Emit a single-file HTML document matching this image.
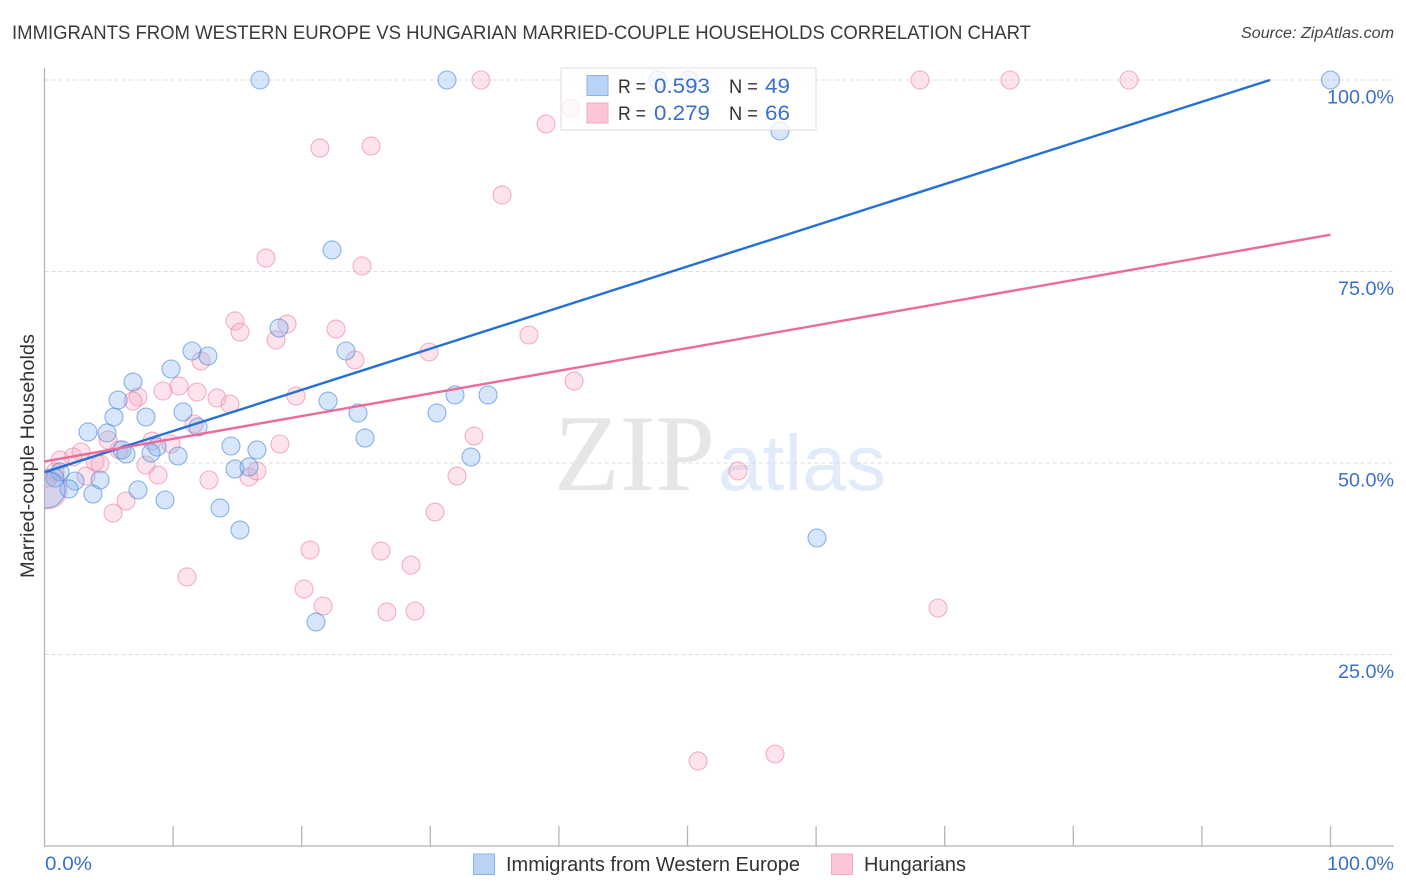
<!DOCTYPE html>
<html>
<head>
<meta charset="utf-8">
<style>
html,body{margin:0;padding:0;background:#fff;width:1406px;height:892px;overflow:hidden}
svg{display:block}
text{font-family:"Liberation Sans",sans-serif}
</style>
</head>
<body>
<svg id="chart" width="1406" height="892" viewBox="0 0 1406 892" xmlns="http://www.w3.org/2000/svg">
  <defs><clipPath id="plot-clip"><rect x="44.5" y="60" width="1350" height="786"/></clipPath></defs>
  <text x="12" y="39" font-size="19.5" fill="#3a3a3a" textLength="1019" lengthAdjust="spacingAndGlyphs">IMMIGRANTS FROM WESTERN EUROPE VS HUNGARIAN MARRIED-COUPLE HOUSEHOLDS CORRELATION CHART</text>
  <text x="1241" y="38" font-size="15.5" font-style="italic" fill="#444" textLength="153" lengthAdjust="spacingAndGlyphs">Source: ZipAtlas.com</text>
  <g>
    <text x="554" y="490" font-size="109" fill="#e6e6e6" style="font-family:'Liberation Serif',serif" textLength="161" lengthAdjust="spacingAndGlyphs">ZIP</text>
    <text x="718" y="490" font-size="79" fill="#e2ebfa" textLength="168" lengthAdjust="spacingAndGlyphs">atlas</text>
  </g>
  <g id="grid"></g>
  <g id="axes"></g>
  <g id="points" clip-path="url(#plot-clip)"></g>
  <g id="lines" clip-path="url(#plot-clip)"></g>
  <g>
    <rect x="561" y="68" width="255" height="62" fill="#fff" fill-opacity="0.76" stroke="#dedede" stroke-width="1"/>
    <rect x="587" y="75.500" width="21" height="20" fill="#b9d3f7" stroke="#8ab4e8"/>
    <rect x="587" y="103" width="21" height="20" fill="#fbc6d6" stroke="#f3a9c0"/>
    <text x="618" y="93" font-size="19.500" fill="#333" textLength="28" lengthAdjust="spacingAndGlyphs">R =</text>
    <text x="654" y="93" font-size="21" fill="#3a6fcf" textLength="56" lengthAdjust="spacingAndGlyphs">0.593</text>
    <text x="729" y="93" font-size="19.500" fill="#333" textLength="29" lengthAdjust="spacingAndGlyphs">N =</text>
    <text x="765" y="93" font-size="21" fill="#3a6fcf" textLength="25" lengthAdjust="spacingAndGlyphs">49</text>
    <text x="618" y="120" font-size="19.500" fill="#333" textLength="28" lengthAdjust="spacingAndGlyphs">R =</text>
    <text x="654" y="120" font-size="21" fill="#3a6fcf" textLength="56" lengthAdjust="spacingAndGlyphs">0.279</text>
    <text x="729" y="120" font-size="19.500" fill="#333" textLength="29" lengthAdjust="spacingAndGlyphs">N =</text>
    <text x="765" y="120" font-size="21" fill="#3a6fcf" textLength="25" lengthAdjust="spacingAndGlyphs">66</text>
  </g>
  <g>
    <rect x="473.500" y="854" width="21" height="20.500" fill="#b9d3f7" stroke="#8ab4e8"/>
    <text x="506" y="871" font-size="20" fill="#333" textLength="294" lengthAdjust="spacingAndGlyphs">Immigrants from Western Europe</text>
    <rect x="831.500" y="854" width="21" height="20.500" fill="#fbc6d6" stroke="#f3a9c0"/>
    <text x="864" y="871" font-size="20" fill="#333" textLength="102" lengthAdjust="spacingAndGlyphs">Hungarians</text>
  </g>
  <text transform="translate(34,456) rotate(-90)" font-size="19.500" fill="#333" text-anchor="middle" textLength="244" lengthAdjust="spacingAndGlyphs">Married-couple Households</text>
</svg>
<script>
const yTicks = [25, 50, 75, 100];
const yTickLabels = ["25.0%", "50.0%", "75.0%", "100.0%"];
const xTicks = [0, 10, 20, 30, 40, 50, 60, 70, 80, 90, 100];
const xEndLabels = ["0.0%", "100.0%"];

const blueX = [16.76,31.30,47.71,50.11,100,57.19,22.36,18.24,11.47,12.71,23.44,9.84,6.88,5.72,7.89,5.40,10.77,22.05,24.38,30.52,31.92,34.49,11.94,3.38,4.86,8.75,14.50,24.92,33.16,6.03,6.34,8.28,10.38,16.52,14.81,15.90,1.21,0.82,2.37,4.32,1.91,3.77,7.27,9.37,13.65,15.20,60.07,21.11,0.2];
const blueY = [100,100,100,100,100,93.34,77.81,67.62,64.62,63.97,64.62,62.27,60.57,58.22,56.0,56.0,56.66,58.09,56.53,56.53,58.88,58.88,54.70,54.05,53.92,52.09,52.22,53.26,50.78,51.70,51.17,51.31,50.91,51.70,49.22,49.48,48.83,48.04,47.65,47.78,46.61,45.95,46.48,45.17,44.13,41.25,40.21,29.24,46.5];
const blueWeight = [1,1,1,1,1,1,1,1,1,1,1,1,1,1,1,1,1,1,1,1,1,1,1,1,1,1,1,1,1,1,1,1,1,1,1,1,1,1,1,1,1,1,1,1,1,1,1,1,2];

const pinkX = [33.94,68.08,75.08,84.33,40.94,39.0,21.42,25.39,35.58,17.22,24.69,14.81,18.86,22.67,15.20,18.0,29.90,37.67,12.17,24.14,41.18,10.46,9.21,11.86,7.27,6.88,13.41,14.42,19.56,11.63,18.31,33.40,4.94,8.36,9.84,5.79,7.89,2.84,2.22,1.21,3.93,4.32,8.83,3.23,12.79,15.90,16.52,32.08,53.93,6.34,5.33,30.37,20.65,26.17,28.50,11.08,20.18,21.66,26.63,28.81,69.48,50.82,56.81,0.27,0.82,0.27];
const pinkY = [100,100,100,100,96.34,94.26,91.12,91.38,84.99,76.76,75.72,68.54,68.15,67.49,67.10,66.06,64.49,66.71,63.32,63.45,60.70,60.05,59.40,59.27,58.62,58.09,58.49,57.70,58.75,55.09,52.48,53.52,53.0,52.87,52.48,51.70,49.74,51.44,50.78,50.39,50.13,49.87,48.43,48.30,47.78,48.17,48.96,48.30,48.96,45.04,43.47,43.60,38.64,38.51,36.68,35.12,33.55,31.33,30.55,30.68,31.07,11.10,12.01,48.04,48.83,46.5];
const pinkWeight = [1,1,1,1,1,1,1,1,1,1,1,1,1,1,1,1,1,1,1,1,1,1,1,1,1,1,1,1,1,1,1,1,1,1,1,1,1,1,1,1,1,1,1,1,1,1,1,1,1,1,1,1,1,1,1,1,1,1,1,1,1,1,1,1,1,2.1];

const blueLineX = [0, 95.3];
const blueLineY = [48.8, 100];
const pinkLineX = [0, 100];
const pinkLineY = [50.2, 79.8];

const NS = 'http://www.w3.org/2000/svg';
function sx(v) { return 44.5 + v * 12.86; }
function sy(v) { return 846 - v * 7.66; }
function make(tag, parent, attrs, text) {
  const el = document.createElementNS(NS, tag);
  for (const k in attrs) el.setAttribute(k, attrs[k]);
  if (text !== undefined) el.textContent = text;
  parent.appendChild(el);
  return el;
}
function labelWidth(s) { return s.length > 5 ? 67 : (s.length === 5 ? 56 : 47); }
const grid = document.getElementById('grid');
const axes = document.getElementById('axes');
const points = document.getElementById('points');
const lines = document.getElementById('lines');

yTicks.forEach(function (t, i) {
  const g = make('line', grid, { x1: 44.5, x2: 1394, y1: sy(t), y2: sy(t), stroke: '#dedede', 'stroke-width': 1, 'stroke-dasharray': '4 3' });
  
  
  const w = labelWidth(yTickLabels[i]);
  const l = make('text', axes, { x: 1394 - w, y: sy(t) + 23.5, 'font-size': 19, fill: '#3a6fcf', textLength: w, lengthAdjust: 'spacingAndGlyphs' }, yTickLabels[i]);
  
  
});

const yAxis = make('line', axes, { x1: 44.5, x2: 44.5, y1: 68, y2: 846, stroke: '#b5b5b5', 'stroke-width': 1.3 });


const xAxis = make('line', axes, { x1: 44, x2: 1394, y1: 846, y2: 846, stroke: '#b5b5b5', 'stroke-width': 1.3 });



xTicks.forEach(function (t) {
  if (t === 0) return;
  const k = make('line', axes, { x1: sx(t), x2: sx(t), y1: 826, y2: 846, stroke: '#b5b5b5', 'stroke-width': 1.3 });
  
  
});
const xl0 = make('text', axes, { x: 45, y: 870, 'font-size': 19, fill: '#3a6fcf', textLength: 47, lengthAdjust: 'spacingAndGlyphs' }, xEndLabels[0]);


const xl1 = make('text', axes, { x: 1327, y: 870, 'font-size': 19, fill: '#3a6fcf', textLength: 67, lengthAdjust: 'spacingAndGlyphs' }, xEndLabels[1]);



pinkX.forEach(function (v, i) {
  const c = make('circle', points, { cx: sx(v), cy: sy(pinkY[i]), r: 9 * pinkWeight[i], fill: 'rgba(248,170,195,0.33)', stroke: 'rgba(236,130,165,0.6)', 'stroke-width': 1.1 });
  
  
});
blueX.forEach(function (v, i) {
  const c = make('circle', points, { cx: sx(v), cy: sy(blueY[i]), r: 9 * blueWeight[i], fill: 'rgba(135,180,240,0.33)', stroke: 'rgba(65,130,215,0.58)', 'stroke-width': 1.1 });
  
  
});

const bl = make('line', lines, { x1: sx(blueLineX[0]), y1: sy(blueLineY[0]), x2: sx(blueLineX[1]), y2: sy(blueLineY[1]), stroke: '#2470d8', 'stroke-width': 2.4 });


const pl = make('line', lines, { x1: sx(pinkLineX[0]), y1: sy(pinkLineY[0]), x2: sx(pinkLineX[1]), y2: sy(pinkLineY[1]), stroke: '#ec6a9c', 'stroke-width': 2.4 });


</script>
</body>
</html>
